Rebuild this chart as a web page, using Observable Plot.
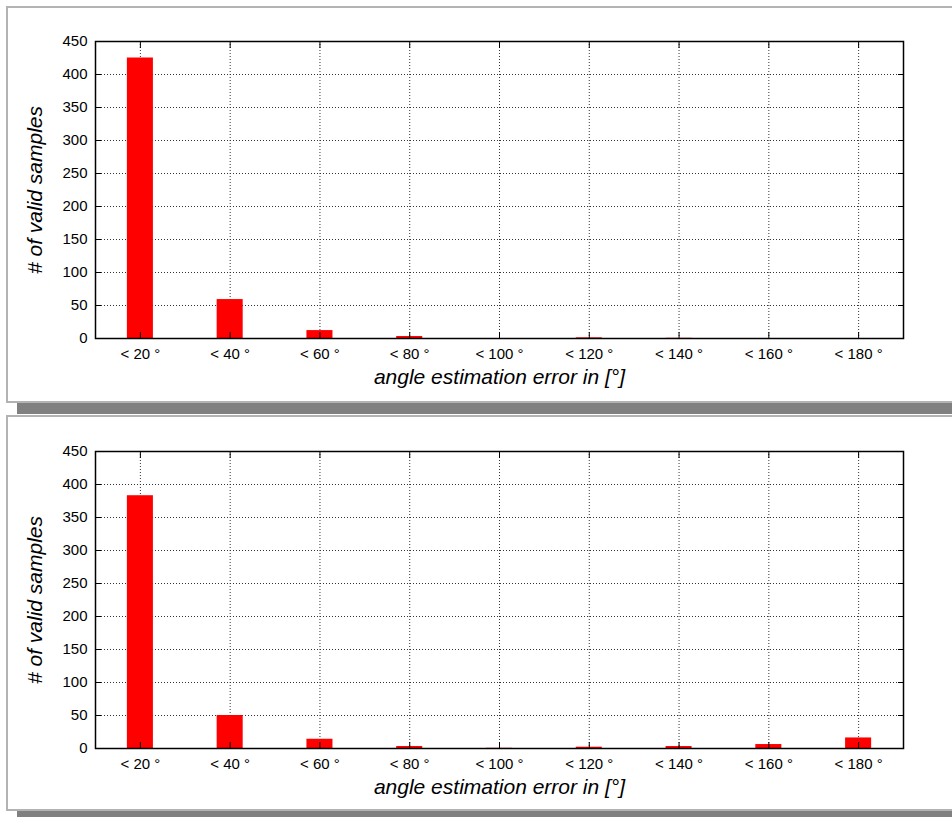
<!DOCTYPE html>
<html><head><meta charset="utf-8">
<script src="https://cdn.jsdelivr.net/npm/d3@7"></script>
<script src="https://cdn.jsdelivr.net/npm/@observablehq/plot@0.6"></script>
<style>
body{margin:0;width:952px;height:817px;overflow:hidden;background:#fff;position:relative;font-family:"Liberation Sans",Arial,sans-serif;}
.panel{position:absolute;left:6px;width:1000px;border:2px solid #b3b3b3;background:#fff;box-shadow:11px 11px 0 #808080;box-sizing:border-box;}
.chart{position:absolute;left:0;}
</style></head><body>
<div class="panel" style="top:6px;height:397px"></div>
<div class="panel" style="top:415px;height:396px"></div>
<div id="c1" class="chart" style="top:0"></div>
<div id="c2" class="chart" style="top:410px"></div>
<script>
const categories = ["< 20 °", "< 40 °", "< 60 °", "< 80 °", "< 100 °", "< 120 °", "< 140 °", "< 160 °", "< 180 °"];
const countsTop = [425, 59, 12, 3, 0, 1, 0.3, 0, 0];
const countsBottom = [383, 50, 14, 3, 0.3, 2, 3, 6, 16];
const yTicks = [0, 50, 100, 150, 200, 250, 300, 350, 400, 450];
const xTitle = "angle estimation error in [°]";
const yTitle = "# of valid samples";

function chart(values) {
  const data = categories.map((c, i) => ({c, v: values[i]}));
  const grid = {stroke: "#333", strokeOpacity: 1, strokeWidth: 1, strokeDasharray: "1,2"};
  return Plot.plot({
    width: 952, height: 400,
    marginLeft: 95, marginRight: 49, marginTop: 41, marginBottom: 62,
    style: {background: "transparent", fontFamily: "Liberation Sans, Arial, sans-serif", overflow: "visible", color: "#000"},
    x: {domain: categories, paddingInner: 0.71, paddingOuter: 0.355, round: false},
    y: {domain: [0, 450]},
    marks: [
      Plot.gridY(yTicks, grid),
      Plot.gridX(categories, grid),
      Plot.barY(data, {x: "c", y: "v", fill: "#ff0000"}),
      Plot.axisY(yTicks, {anchor: "left", tickSize: -6, fill: "none", stroke: "#000", label: null}),
      Plot.axisY(yTicks, {anchor: "right", tickSize: -6, fill: "none", stroke: "#000", label: null}),
      Plot.axisX(categories, {anchor: "top", tickSize: -6, fill: "none", stroke: "#000", label: null}),
      Plot.axisX(categories, {anchor: "bottom", tickSize: -6, fill: "none", stroke: "#000", label: null}),
      Plot.axisY(yTicks, {anchor: "left", tickSize: 0, tickPadding: 8, fontSize: 15, fill: "#000", label: null}),
      Plot.axisX(categories, {anchor: "bottom", tickSize: 0, tickPadding: 10, fontSize: 15, fill: "#000", label: null}),
      Plot.frame({stroke: "#000", strokeWidth: 1.5}),
      Plot.text([yTitle], {text: d => d, frameAnchor: "left", textAnchor: "middle", rotate: -90, dx: -60, fontSize: 21, fontStyle: "italic", fill: "#000"}),
      Plot.text([xTitle], {text: d => d, frameAnchor: "bottom", dy: 39, fontSize: 21, fontStyle: "italic", lineAnchor: "middle", fill: "#000"})
    ]
  });
}
document.getElementById("c1").append(chart(countsTop));
document.getElementById("c2").append(chart(countsBottom));
</script>
</body></html>
